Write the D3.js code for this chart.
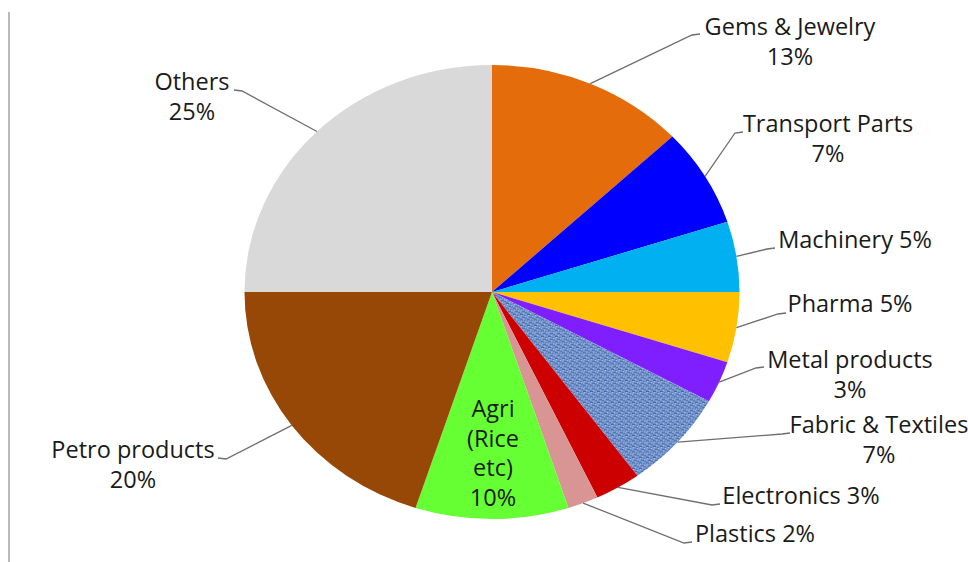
<!DOCTYPE html>
<html>
<head>
<meta charset="utf-8">
<script src="https://cdn.jsdelivr.net/npm/d3@7"></script>
<style>
  body { margin: 0; background: #fff; }
  svg { display: block; }
  text { font-family: "Open Sans", sans-serif; fill: #1a1a1a; }
</style>
</head>
<body>
<script>
var width = 968,
    height = 562;

// export shares (%) - clockwise from 12 o'clock
var sectors = ["Gems & Jewelry", "Transport Parts", "Machinery", "Pharma", "Metal products",
               "Fabric & Textiles", "Electronics", "Plastics", "Agri (Rice etc)", "Petro products", "Others"];
var shares = [13, 7, 5, 5, 3, 7, 3, 2, 10, 20, 25];
var colors = ["#E46C0A", "#0000FF", "#00B0F0", "#FFC000", "#7F1FFF",
              "url(#denim)", "#CC0000", "#D99594", "#66FF33", "#974806", "#D9D9D9"];
// how each label is broken into lines ("%" appended from shares)
var labelLines = [["Gems & Jewelry", ""], ["Transport Parts", ""], ["Machinery "], ["Pharma "],
                  ["Metal products", ""], ["Fabric & Textiles", ""], ["Electronics "], ["Plastics "],
                  ["Agri", "(Rice", "etc)", ""], ["Petro products", ""], ["Others", ""]];

// label layout: text centre x, first baseline, leader end x/y, side
var labelLayout = [
  {x: 790, y: 35,  lx: 700, ly: 34,  dir: 1},
  {x: 828, y: 132, lx: 743, ly: 132, dir: 1},
  {x: 855, y: 248, lx: 775, ly: 248, dir: 1},
  {x: 850, y: 312, lx: 786, ly: 313, dir: 1},
  {x: 850, y: 368, lx: 764, ly: 367, dir: 1},
  {x: 879, y: 433, lx: 790, ly: 433, dir: 1},
  {x: 801, y: 504, lx: 720, ly: 504, dir: 1},
  {x: 755, y: 542, lx: 692, ly: 542, dir: 1},
  {x: 493, y: 417, lx: null},
  {x: 133, y: 458, lx: 218, ly: 458, dir: -1},
  {x: 192, y: 90,  lx: 234, ly: 90,  dir: -1}
];

var cx = 492, cy = 292, rx = 247.5, ry = 227;

var svg = d3.select("body").append("svg")
    .attr("width", width)
    .attr("height", height);

// denim-like texture for the textile slice
var pat = svg.append("defs").append("pattern")
    .attr("id", "denim")
    .attr("patternUnits", "userSpaceOnUse")
    .attr("width", 7).attr("height", 6);
pat.append("rect").attr("width", 7).attr("height", 6).attr("fill", "#7797CF");
[[0, 0, 3, 1, "#4A68A4"], [4, 1, 2, 1, "#5877B4"], [2, 3, 3, 1, "#4A68A4"],
 [5, 4, 2, 1, "#5472AE"], [0, 5, 2, 1, "#6181BE"], [1, 1, 1, 1, "#A9C1E9"],
 [5, 2, 1, 1, "#B0C6EC"], [3, 5, 1, 1, "#A4BCE6"], [0, 3, 1, 1, "#98B3E2"]]
  .forEach(function (r) {
    pat.append("rect")
      .attr("x", r[0]).attr("y", r[1]).attr("width", r[2]).attr("height", r[3])
      .attr("fill", r[4]);
  });

// frame edge on the left
svg.append("line")
    .attr("x1", 9).attr("x2", 9)
    .attr("y1", 12).attr("y2", height)
    .attr("stroke", "#8c8c8c")
    .attr("stroke-width", 1.2);

var pie = d3.pie().sort(null).value(function (d) { return d; });
var arcs = pie(shares);

var arc = d3.arc().innerRadius(0).outerRadius(rx);

svg.append("g")
    .attr("transform", "translate(" + cx + "," + cy + ") scale(1," + (ry / rx) + ")")
  .selectAll("path")
  .data(arcs)
  .enter().append("path")
    .attr("d", arc)
    .attr("fill", function (d, i) { return colors[i]; });

function edgePoint(d) {
  var a = (d.startAngle + d.endAngle) / 2;
  return [cx + rx * Math.sin(a), cy - ry * Math.cos(a)];
}

// leader lines
svg.append("g")
  .selectAll("path")
  .data(arcs.filter(function (d, i) { return labelLayout[i].lx !== null; }))
  .enter().append("path")
    .attr("fill", "none")
    .attr("stroke", "#6e6e6e")
    .attr("stroke-width", 1.3)
    .attr("d", function (d) {
      var L = labelLayout[d.index], p = edgePoint(d);
      return d3.line()([p, [L.lx - 8 * L.dir, L.ly + 1], [L.lx, L.ly]]);
    });

// labels
var labels = svg.append("g")
  .selectAll("text")
  .data(arcs)
  .enter().append("text")
    .attr("text-anchor", "middle")
    .attr("font-size", 23.5)
    .attr("x", function (d) { return labelLayout[d.index].x; })
    .attr("y", function (d) { return labelLayout[d.index].y; });

labels.selectAll("tspan")
  .data(function (d) {
    var lines = labelLines[d.index].slice();
    lines[lines.length - 1] += shares[d.index] + "%";
    return lines.map(function (t) { return {t: t, x: labelLayout[d.index].x}; });
  })
  .enter().append("tspan")
    .attr("x", function (l) { return l.x; })
    .attr("dy", function (l, j) { return j === 0 ? 0 : 29.5; })
    .text(function (l) { return l.t; });
</script>
</body>
</html>
